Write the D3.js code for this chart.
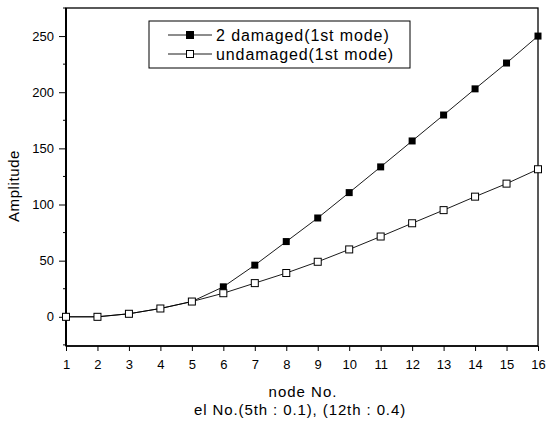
<!DOCTYPE html>
<html><head><meta charset="utf-8">
<script src="https://cdn.jsdelivr.net/npm/d3@7/dist/d3.min.js"></script>
<style>body{margin:0;background:#fff}svg{display:block}text{font-family:"Liberation Sans",Arial,sans-serif;fill:#000}</style>
</head><body>
<svg id="c" width="547" height="423"></svg>
<script>
const nodes = [1,2,3,4,5,6,7,8,9,10,11,12,13,14,15,16];
const damaged = [0,0,2.7,7.4,13.6,26.7,46,67,88,110.6,133.5,156.6,179.7,203,226,250];
const undamaged = [0,0,2.7,7.4,13.6,21,30,39,49,60,71.5,83.3,95,107,118.6,131.4];
const yTicks = [0,50,100,150,200,250];
const seriesNames = ["2 damaged(1st mode)","undamaged(1st mode)"];

const svg = d3.select("#c");
const L=66, R=538, T=8, B=346;
const x = d3.scaleLinear().domain([1,16]).range([L,R]);
const y = d3.scaleLinear().domain([-26,275]).range([B,T]);

// frame
svg.append("rect").attr("x",L).attr("y",T).attr("width",R-L).attr("height",B-T)
  .attr("fill","none").attr("stroke","#000").attr("stroke-width",1.3);
svg.append("line").attr("x1",L).attr("x2",L).attr("y1",T).attr("y2",B).attr("stroke","#000").attr("stroke-width",2);
svg.append("line").attr("x1",L).attr("x2",R).attr("y1",B).attr("y2",B).attr("stroke","#000").attr("stroke-width",1.6);

// axes
const xa = svg.append("g").attr("transform",`translate(0,${B})`)
  .call(d3.axisBottom(x).tickValues(nodes).tickFormat(d3.format("d")).tickSize(5).tickPadding(9));
xa.select(".domain").remove();
xa.selectAll("text").attr("font-size",13);

const ya = svg.append("g").attr("transform",`translate(${L},0)`)
  .call(d3.axisLeft(y).tickValues(yTicks).tickSize(7).tickPadding(5));
ya.select(".domain").remove();
ya.selectAll("text").attr("font-size",13);
// minor y ticks
svg.append("g").selectAll("line").data(d3.range(-25,276,25).filter(v=>v%50!==0))
  .join("line").attr("x1",L-3).attr("x2",L).attr("y1",d=>y(d)).attr("y2",d=>y(d)).attr("stroke","#000");

// titles
svg.append("text").attr("transform",`translate(19,186) rotate(-90)`).attr("text-anchor","middle")
  .attr("font-size",15).attr("letter-spacing",0.6).text("Amplitude");
svg.append("text").attr("x",303).attr("y",397).attr("text-anchor","middle").attr("font-size",15).attr("letter-spacing",1).text("node No.");
svg.append("text").attr("x",300).attr("y",415).attr("text-anchor","middle").attr("font-size",15).attr("letter-spacing",0.9).text("el No.(5th : 0.1), (12th : 0.4)");

// lines
const line = d3.line().x((d,i)=>x(nodes[i])).y(d=>y(d));
svg.append("path").datum(damaged).attr("d",line).attr("fill","none").attr("stroke","#000").attr("stroke-width",0.9);
svg.append("path").datum(undamaged).attr("d",line).attr("fill","none").attr("stroke","#000").attr("stroke-width",0.9);
const s=7;
svg.append("g").selectAll("rect").data(damaged).join("rect")
  .attr("x",(d,i)=>x(nodes[i])-s/2).attr("y",d=>y(d)-s/2).attr("width",s).attr("height",s).attr("fill","#000");
svg.append("g").selectAll("rect").data(undamaged).join("rect")
  .attr("x",(d,i)=>x(nodes[i])-s/2).attr("y",d=>y(d)-s/2).attr("width",s).attr("height",s)
  .attr("fill","#fff").attr("stroke","#000").attr("stroke-width",1);

// legend
const lg = svg.append("g");
lg.append("rect").attr("x",149).attr("y",21).attr("width",261).attr("height",47).attr("fill","#fff").attr("stroke","#000").attr("stroke-width",1);
seriesNames.forEach((n,i)=>{
  const yy = 35+i*19;
  lg.append("line").attr("x1",168).attr("x2",212).attr("y1",yy).attr("y2",yy).attr("stroke","#000").attr("stroke-width",0.9);
  lg.append("rect").attr("x",190-s/2).attr("y",yy-s/2).attr("width",s).attr("height",s)
    .attr("fill",i===0?"#000":"#fff").attr("stroke","#000").attr("stroke-width",1);
  lg.append("text").attr("x",216).attr("y",yy+6).attr("font-size",16).attr("letter-spacing",0.9).text(n);
});
</script>
</body></html>
